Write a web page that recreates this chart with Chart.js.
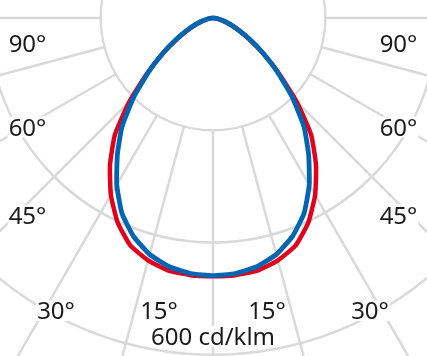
<!DOCTYPE html>
<html>
<head>
<meta charset="utf-8">
<script src="https://cdn.jsdelivr.net/npm/chart.js@4/dist/chart.umd.min.js"></script>
<style>
  html, body { margin: 0; padding: 0; width: 427px; height: 356px; overflow: hidden; background: #fff; }
  #wrap { position: relative; width: 427px; height: 356px; overflow: hidden; }
  #c { position: absolute; left: -236px; top: -431px; }
</style>
</head>
<body>
<div id="wrap"><canvas id="c" width="898" height="898"></canvas></div>
<script>
// gamma angles (degrees from nadir), 5° steps, 0..180
const gammaAngles = [0,5,10,15,20,25,30,35,40,45,50,55,60,65,70,75,80,85,90,
                     95,100,105,110,115,120,125,130,135,140,145,150,155,160,165,170,175,180];
// C0/C180 plane (red), cd/klm
const planeC0 = [460,460,457,447,431,402,364,320,272,211,153,108,73,48,31,18,9,4,0,
                 0,0,0,0,0,0,0,0,0,0,0,0,0,0,0,0,0,0];
// C90/C270 plane (blue), cd/klm
const planeC90 = [459,457,450,436,414,384,343,297,252,200,150,108,75,50,32,19,10,4,0,
                  0,0,0,0,0,0,0,0,0,0,0,0,0,0,0,0,0,0];
// angle labels
const angleLabels = ['90°','60°','45°','30°','15°'];
const unitLabel = '600 cd/klm';
const scaleMax = 800;
const scaleStep = 200;

// Build full-circle table: left half = gamma 0..180, right half mirrors back to 5
function fullCircle(half) {
  const out = half.slice();
  for (let i = half.length - 2; i >= 1; i--) out.push(half[i]);
  return out;
}
const circleLabels = fullCircle(gammaAngles).map(String);

const GRID = '#d9d9d9';

const maskPlugin = {
  id: 'innerMask',
  beforeDatasetsDraw(chart) {
    const s = chart.scales.r;
    const ctx = chart.ctx;
    const r = s.getDistanceFromCenterForValue(scaleStep);
    ctx.save();
    ctx.fillStyle = '#fff';
    ctx.beginPath();
    ctx.arc(s.xCenter, s.yCenter, r - 1.2, 0, Math.PI * 2);
    ctx.fill();
    ctx.restore();
  }
};

// label placement (offsets from polar centre to text centre x / baseline y)
const labelPlacement = [
  {dx: 185.5, dy: 33.5},
  {dx: 185.5, dy: 117.5},
  {dx: 185.5, dy: 205.5},
  {dx: 157,   dy: 301},
  {dx: 54,    dy: 301}
];
const unitPlacement = {dx: 0, dy: 327};

const textPlugin = {
  id: 'polarText',
  afterDraw(chart) {
    const s = chart.scales.r;
    const ctx = chart.ctx;
    ctx.save();
    ctx.font = '24px "Noto Sans", "Open Sans", sans-serif';
    ctx.textAlign = 'center';
    ctx.textBaseline = 'alphabetic';
    const put = (txt, x, y) => {
      const w = ctx.measureText(txt).width;
      ctx.fillStyle = '#fff';
      ctx.fillRect(x - w / 2 - 1, y - 19, w + 2, 21);
      ctx.fillStyle = '#1a1a1a';
      ctx.fillText(txt, x, y);
    };
    angleLabels.forEach((t, i) => {
      const p = labelPlacement[i];
      put(t, s.xCenter - p.dx, s.yCenter + p.dy);
      put(t, s.xCenter + p.dx, s.yCenter + p.dy);
    });
    put(unitLabel, s.xCenter + unitPlacement.dx, s.yCenter + unitPlacement.dy);
    ctx.restore();
  }
};

new Chart(document.getElementById('c'), {
  type: 'radar',
  data: {
    labels: circleLabels,
    datasets: [
      { label: 'C90/C270', data: fullCircle(planeC90), borderColor: '#0066b3', borderWidth: 4.8, fill: false },
      { label: 'C0/C180',  data: fullCircle(planeC0),  borderColor: '#e2001a', borderWidth: 4.5, fill: false }
    ]
  },
  options: {
    responsive: false,
    animation: false,
    layout: { padding: 0 },
    elements: { point: { radius: 0, hoverRadius: 0 }, line: { tension: 0.15 } },
    plugins: { legend: { display: false }, tooltip: { enabled: false } },
    scales: {
      r: {
        min: 0,
        max: scaleMax,
        startAngle: 180,
        ticks: { display: false, stepSize: scaleStep },
        pointLabels: { display: false },
        grid: { circular: true, color: GRID, lineWidth: 2.5 },
        angleLines: {
          display: true,
          color: c => (c.index % 3 === 0 ? GRID : 'rgba(0,0,0,0)'),
          lineWidth: c => (c.index % 3 === 0 ? 2.5 : 0)
        }
      }
    }
  },
  plugins: [maskPlugin, textPlugin]
});
</script>
</body>
</html>
